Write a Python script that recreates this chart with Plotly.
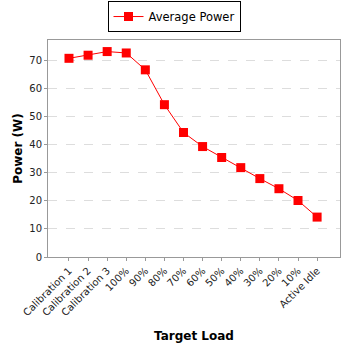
import plotly.graph_objects as go

categories = ["Calibration 1", "Calibration 2", "Calibration 3", "100%", "90%", "80%",
              "70%", "60%", "50%", "40%", "30%", "20%", "10%", "Active Idle"]
avg_power = [70.7, 71.8, 73.1, 72.6, 66.6, 54.2, 44.3, 39.3, 35.4, 31.8, 27.9, 24.3, 20.1, 14.2]
y_ticks = [0, 10, 20, 30, 40, 50, 60, 70]

fig = go.Figure()
fig.add_trace(go.Scatter(
    x=list(range(len(categories))), y=avg_power, mode="lines+markers",
    name="Average Power",
    line=dict(color="#ff0000", width=1),
    marker=dict(symbol="square", size=9, color="#ff0000"),
))

fig.update_layout(
    width=348, height=348,
    margin=dict(l=48, r=7, t=27, b=84),
    paper_bgcolor="white", plot_bgcolor="white",
    font=dict(family="DejaVu Sans", size=10, color="#222222"),
    showlegend=True,
    legend=dict(orientation="h", x=0.5, xref="container", xanchor="center",
                y=0.997, yref="container", yanchor="top",
                bordercolor="black", borderwidth=1, bgcolor="white",
                font=dict(size=11.5, color="black", family="DejaVu Sans"),
                itemwidth=30, tracegroupgap=0),
    xaxis=dict(
        tickmode="array", tickvals=list(range(len(categories))), ticktext=categories,
        tickangle=-45, range=[-1.1, 14.2],
        showgrid=False, zeroline=False,
        showline=True, linecolor="#999999", mirror=True,
        ticks="outside", ticklen=3, tickcolor="#999999",
        tickfont=dict(size=10, color="#222222"),
        title=dict(text="<b>Target Load</b>", font=dict(size=12, color="black"), standoff=14),
    ),
    yaxis=dict(
        range=[0, 77.2], tickvals=y_ticks,
        showgrid=True, gridcolor="#dddddd", griddash="dash", gridwidth=1,
        zeroline=False,
        showline=True, linecolor="#999999", mirror=True,
        ticks="outside", ticklen=3, tickcolor="#999999",
        tickfont=dict(size=10, color="#222222"),
        title=dict(text="<b>Power (W)</b>", font=dict(size=12, color="black"), standoff=4),
    ),
)

fig.write_html("out.html")
